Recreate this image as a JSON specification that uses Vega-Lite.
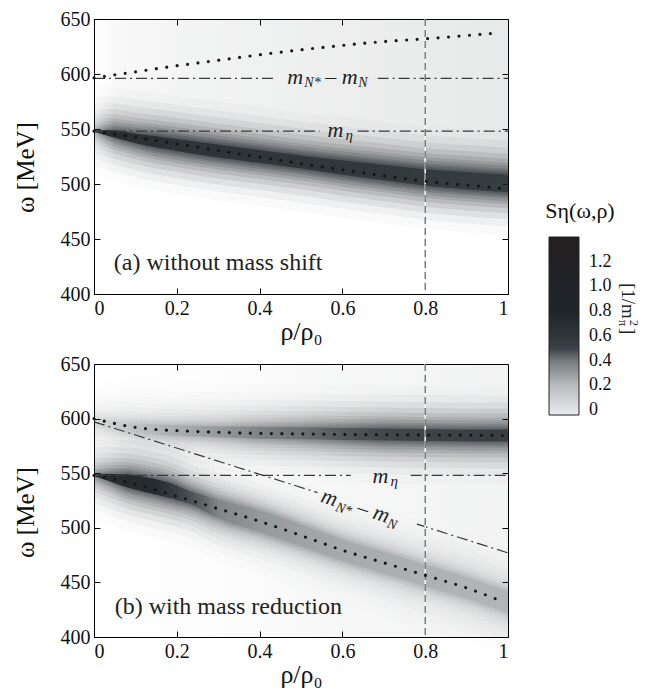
{
"$schema":"https://vega.github.io/schema/vega-lite/v6.json",
"padding":{"left":12,"top":8,"right":0,"bottom":0},
"background":"white",
"bounds":"flush",
"spacing":70,
"config":{
 "view":{"stroke":"black","strokeWidth":1},
 "font":"Liberation Serif",
 "axis":{"labelFont":"Liberation Serif","titleFont":"Liberation Serif","labelFontSize":20,"titleFontWeight":"normal","labelColor":"#111","titleColor":"#111","domainColor":"black","tickColor":"black","grid":false,"tickSize":-6,"labelPadding":10},
 "area":{"interpolate":"monotone","opacity":1},
 "text":{"font":"Liberation Serif","color":"#222"}
},
"datasets":{
 "bA":[{"x":0,"lo":547.5,"hi":548.5},{"x":0.03,"lo":544,"hi":549},{"x":0.1,"lo":537,"hi":546},{"x":0.2,"lo":530,"hi":541},{"x":0.3,"lo":524,"hi":536},{"x":0.4,"lo":519,"hi":531},{"x":0.5,"lo":514,"hi":526},{"x":0.6,"lo":508.5,"hi":521.5},{"x":0.7,"lo":503.5,"hi":517.5},{"x":0.8,"lo":498.5,"hi":513.5},{"x":0.9,"lo":495,"hi":511},{"x":1,"lo":492.5,"hi":508.5}],
 "bBl":[{"x":0,"lo":547.5,"hi":548.5},{"x":0.03,"lo":543.5,"hi":549.5},{"x":0.08,"lo":537,"hi":549},{"x":0.13,"lo":532,"hi":546},{"x":0.18,"lo":527.5,"hi":541.5},{"x":0.23,"lo":522,"hi":534},{"x":0.3,"lo":509,"hi":526},{"x":0.4,"lo":496,"hi":516},{"x":0.5,"lo":483,"hi":503},{"x":0.6,"lo":469.5,"hi":489.5},{"x":0.7,"lo":458,"hi":478},{"x":0.8,"lo":446.5,"hi":466.5},{"x":0.9,"lo":435,"hi":455},{"x":1,"lo":422,"hi":442}],
 "bBu":[{"x":0,"lo":595,"hi":599},{"x":0.05,"lo":591,"hi":597},{"x":0.1,"lo":587.5,"hi":595.5},{"x":0.2,"lo":584,"hi":594},{"x":0.3,"lo":583,"hi":593},{"x":0.4,"lo":581.5,"hi":592.5},{"x":0.5,"lo":581,"hi":592},{"x":0.6,"lo":580.5,"hi":591.5},{"x":0.7,"lo":580,"hi":591},{"x":0.8,"lo":579.5,"hi":590.5},{"x":0.9,"lo":579,"hi":590},{"x":1,"lo":579,"hi":590}],
 "dA":[{"k":"u","x":0,"y":596.5},{"k":"u","x":0.1,"y":602},{"k":"u","x":0.2,"y":607.5},{"k":"u","x":0.3,"y":612.5},{"k":"u","x":0.4,"y":617.5},{"k":"u","x":0.5,"y":622},{"k":"u","x":0.6,"y":626},{"k":"u","x":0.7,"y":629.5},{"k":"u","x":0.8,"y":632},{"k":"u","x":0.9,"y":635},{"k":"u","x":0.98,"y":637.5},
  {"k":"l","x":0,"y":548},{"k":"l","x":0.1,"y":542.5},{"k":"l","x":0.2,"y":536.5},{"k":"l","x":0.3,"y":530.5},{"k":"l","x":0.4,"y":524.5},{"k":"l","x":0.5,"y":518.5},{"k":"l","x":0.6,"y":513},{"k":"l","x":0.7,"y":507.5},{"k":"l","x":0.8,"y":502.5},{"k":"l","x":0.9,"y":499},{"k":"l","x":1,"y":495.5}],
 "dB":[{"k":"u","x":0,"y":600},{"k":"u","x":0.05,"y":595.5},{"k":"u","x":0.1,"y":592},{"k":"u","x":0.15,"y":590},{"k":"u","x":0.2,"y":589},{"k":"u","x":0.3,"y":587.5},{"k":"u","x":0.4,"y":586.5},{"k":"u","x":0.5,"y":586},{"k":"u","x":0.6,"y":585.5},{"k":"u","x":0.8,"y":585},{"k":"u","x":1,"y":584.5},
  {"k":"l","x":0,"y":548},{"k":"l","x":0.1,"y":540},{"k":"l","x":0.2,"y":529},{"k":"l","x":0.3,"y":517.5},{"k":"l","x":0.4,"y":506},{"k":"l","x":0.5,"y":493},{"k":"l","x":0.6,"y":479.5},{"k":"l","x":0.7,"y":468},{"k":"l","x":0.8,"y":456.5},{"k":"l","x":0.9,"y":445},{"k":"l","x":0.99,"y":432}],
 "lA":[{"x":0,"x2":0.44,"y":596,"y2":596},{"x":0.685,"x2":1,"y":596,"y2":596},{"x":0,"x2":0.545,"y":548,"y2":548},{"x":0.637,"x2":1,"y":548,"y2":548}],
 "lB":[{"x":0,"x2":0.62,"y":548,"y2":548},{"x":0.765,"x2":1,"y":548,"y2":548},{"x":0,"x2":0.54,"y":597,"y2":532.2},{"x":0.78,"x2":1,"y":503.4,"y2":477}],
 "one":[{}],
 "leg":[{"v":0},{"v":1.4}]
},
"vconcat":[
{
 "width":414,"height":275,
 "resolve":{"axis":{"x":"independent","y":"independent"}},
 "layer":[
  {"data":{"name":"bA"},
   "mark":{"type":"area","fill":{"gradient":"linear","stops":[{"offset":0,"color":"rgba(26,34,38,0)"},{"offset":0.06,"color":"rgba(26,34,38,0.03)"},{"offset":0.3,"color":"rgba(26,34,38,0.06)"},{"offset":0.6,"color":"rgba(26,34,38,0.08)"},{"offset":1,"color":"rgba(26,34,38,0.1)"}]}},
   "encoding":{
    "x":{"field":"x","type":"quantitative","scale":{"domain":[0,1],"nice":false,"zero":false},"axis":{"title":"ρ/ρ₀","titleFontSize":26,"titleY":24,"values":[0,0.2,0.4,0.6,0.8,1],"format":"~g"}},
    "y":{"field":"hi","type":"quantitative","scale":{"domain":[400,650],"nice":false,"zero":false},"axis":{"title":"ω [MeV]","titleFontSize":25,"titleX":-56,"titleY":148,"values":[400,450,500,550,600,650]}},
    "y2":{"datum":650}}},
  {"data":{"name":"bA"},"mark":{"type":"area","yOffset":43,"y2Offset":-43,"fill":{"gradient":"linear","stops":[{"offset":0,"color":"rgba(26,34,38,0.008)"},{"offset":0.05,"color":"rgba(26,34,38,0.02)"},{"offset":0.15,"color":"rgba(26,34,38,0.025)"},{"offset":1,"color":"rgba(26,34,38,0.025)"}]}},
   "encoding":{"x":{"field":"x","type":"quantitative","axis":null},"y":{"field":"lo","type":"quantitative","axis":null},"y2":{"field":"hi"}}},
  {"data":{"name":"bA"},"mark":{"type":"area","yOffset":34,"y2Offset":-34,"fill":{"gradient":"linear","stops":[{"offset":0,"color":"rgba(26,34,38,0.014)"},{"offset":0.05,"color":"rgba(26,34,38,0.037)"},{"offset":0.15,"color":"rgba(26,34,38,0.046)"},{"offset":1,"color":"rgba(26,34,38,0.046)"}]}},
   "encoding":{"x":{"field":"x","type":"quantitative","axis":null},"y":{"field":"lo","type":"quantitative","axis":null},"y2":{"field":"hi"}}},
  {"data":{"name":"bA"},"mark":{"type":"area","yOffset":27,"y2Offset":-27,"fill":{"gradient":"linear","stops":[{"offset":0,"color":"rgba(26,34,38,0.023)"},{"offset":0.05,"color":"rgba(26,34,38,0.06)"},{"offset":0.15,"color":"rgba(26,34,38,0.075)"},{"offset":1,"color":"rgba(26,34,38,0.075)"}]}},
   "encoding":{"x":{"field":"x","type":"quantitative","axis":null},"y":{"field":"lo","type":"quantitative","axis":null},"y2":{"field":"hi"}}},
  {"data":{"name":"bA"},"mark":{"type":"area","yOffset":21,"y2Offset":-21,"fill":{"gradient":"linear","stops":[{"offset":0,"color":"rgba(26,34,38,0.028)"},{"offset":0.05,"color":"rgba(26,34,38,0.074)"},{"offset":0.15,"color":"rgba(26,34,38,0.093)"},{"offset":1,"color":"rgba(26,34,38,0.093)"}]}},
   "encoding":{"x":{"field":"x","type":"quantitative","axis":null},"y":{"field":"lo","type":"quantitative","axis":null},"y2":{"field":"hi"}}},
  {"data":{"name":"bA"},"mark":{"type":"area","yOffset":16,"y2Offset":-16,"fill":{"gradient":"linear","stops":[{"offset":0,"color":"rgba(26,34,38,0.035)"},{"offset":0.05,"color":"rgba(26,34,38,0.092)"},{"offset":0.15,"color":"rgba(26,34,38,0.115)"},{"offset":1,"color":"rgba(26,34,38,0.115)"}]}},
   "encoding":{"x":{"field":"x","type":"quantitative","axis":null},"y":{"field":"lo","type":"quantitative","axis":null},"y2":{"field":"hi"}}},
  {"data":{"name":"bA"},"mark":{"type":"area","yOffset":12,"y2Offset":-12,"fill":{"gradient":"linear","stops":[{"offset":0,"color":"rgba(26,34,38,0.039)"},{"offset":0.05,"color":"rgba(26,34,38,0.104)"},{"offset":0.15,"color":"rgba(26,34,38,0.13)"},{"offset":1,"color":"rgba(26,34,38,0.13)"}]}},
   "encoding":{"x":{"field":"x","type":"quantitative","axis":null},"y":{"field":"lo","type":"quantitative","axis":null},"y2":{"field":"hi"}}},
  {"data":{"name":"bA"},"mark":{"type":"area","yOffset":9,"y2Offset":-9,"fill":{"gradient":"linear","stops":[{"offset":0,"color":"rgba(26,34,38,0.045)"},{"offset":0.05,"color":"rgba(26,34,38,0.12)"},{"offset":0.15,"color":"rgba(26,34,38,0.15)"},{"offset":1,"color":"rgba(26,34,38,0.15)"}]}},
   "encoding":{"x":{"field":"x","type":"quantitative","axis":null},"y":{"field":"lo","type":"quantitative","axis":null},"y2":{"field":"hi"}}},
  {"data":{"name":"bA"},"mark":{"type":"area","yOffset":6,"y2Offset":-6,"fill":{"gradient":"linear","stops":[{"offset":0,"color":"rgba(26,34,38,0.053)"},{"offset":0.05,"color":"rgba(26,34,38,0.141)"},{"offset":0.15,"color":"rgba(26,34,38,0.176)"},{"offset":1,"color":"rgba(26,34,38,0.176)"}]}},
   "encoding":{"x":{"field":"x","type":"quantitative","axis":null},"y":{"field":"lo","type":"quantitative","axis":null},"y2":{"field":"hi"}}},
  {"data":{"name":"bA"},"mark":{"type":"area","yOffset":4,"y2Offset":-4,"fill":{"gradient":"linear","stops":[{"offset":0,"color":"rgba(26,34,38,0.057)"},{"offset":0.05,"color":"rgba(26,34,38,0.152)"},{"offset":0.15,"color":"rgba(26,34,38,0.19)"},{"offset":1,"color":"rgba(26,34,38,0.19)"}]}},
   "encoding":{"x":{"field":"x","type":"quantitative","axis":null},"y":{"field":"lo","type":"quantitative","axis":null},"y2":{"field":"hi"}}},
  {"data":{"name":"bA"},"mark":{"type":"area","yOffset":2,"y2Offset":-2,"fill":{"gradient":"linear","stops":[{"offset":0,"color":"rgba(26,34,38,0.062)"},{"offset":0.05,"color":"rgba(26,34,38,0.165)"},{"offset":0.15,"color":"rgba(26,34,38,0.206)"},{"offset":1,"color":"rgba(26,34,38,0.206)"}]}},
   "encoding":{"x":{"field":"x","type":"quantitative","axis":null},"y":{"field":"lo","type":"quantitative","axis":null},"y2":{"field":"hi"}}},
  {"data":{"name":"bA"},"mark":{"type":"area","fill":{"gradient":"linear","stops":[{"offset":0,"color":"rgba(26,28,30,0.85)"},{"offset":0.2,"color":"rgba(26,34,38,0.7)"},{"offset":0.6,"color":"rgba(26,34,38,0.63)"},{"offset":1,"color":"rgba(26,34,38,0.55)"}]}},
   "encoding":{"x":{"field":"x","type":"quantitative","axis":null},"y":{"field":"lo","type":"quantitative","axis":null},"y2":{"field":"hi"}}},
  {"data":{"name":"lA"},
   "mark":{"type":"rule","strokeDash":[11,4,2,4],"strokeWidth":1.2,"color":"#3a3a3a"},
   "encoding":{"x":{"field":"x","type":"quantitative","axis":null},"x2":{"field":"x2"},"y":{"field":"y","type":"quantitative","axis":null},"y2":{"field":"y2"}}},
  {"data":{"name":"one"},
   "mark":{"type":"rule","strokeWidth":1.6,"color":"#f4f4f4"},
   "encoding":{"x":{"datum":0.8,"type":"quantitative","axis":null}}},
  {"data":{"name":"one"},
   "mark":{"type":"rule","strokeDash":[7,4],"strokeWidth":1.2,"color":"#606060"},
   "encoding":{"x":{"datum":0.8,"type":"quantitative","axis":null}}},
  {"data":{"name":"dA"},
   "mark":{"type":"line","interpolate":"monotone","strokeDash":[0,10.5],"strokeCap":"round","strokeWidth":3.2,"color":"#161616"},
   "encoding":{"x":{"field":"x","type":"quantitative","axis":null},"y":{"field":"y","type":"quantitative","axis":null},"detail":{"field":"k"}}},
  {"data":{"name":"one"},"mark":{"type":"text","text":"m","fontSize":22,"fontStyle":"italic","align":"left","baseline":"alphabetic","dy":6},
   "encoding":{"x":{"datum":0.467,"type":"quantitative","axis":null},"y":{"datum":596,"type":"quantitative","axis":null}}},
  {"data":{"name":"one"},"mark":{"type":"text","text":"N*","fontSize":14,"fontStyle":"italic","align":"left","baseline":"alphabetic","dx":17,"dy":9},
   "encoding":{"x":{"datum":0.467,"type":"quantitative","axis":null},"y":{"datum":596,"type":"quantitative","axis":null}}},
  {"data":{"name":"one"},"mark":{"type":"text","text":"– m","fontSize":22,"fontStyle":"italic","align":"left","baseline":"alphabetic","dx":38,"dy":6},
   "encoding":{"x":{"datum":0.467,"type":"quantitative","axis":null},"y":{"datum":596,"type":"quantitative","axis":null}}},
  {"data":{"name":"one"},"mark":{"type":"text","text":"N","fontSize":14,"fontStyle":"italic","align":"left","baseline":"alphabetic","dx":71,"dy":9},
   "encoding":{"x":{"datum":0.467,"type":"quantitative","axis":null},"y":{"datum":596,"type":"quantitative","axis":null}}},
  {"data":{"name":"one"},"mark":{"type":"text","text":"m","fontSize":22,"fontStyle":"italic","align":"left","baseline":"alphabetic","dy":6},
   "encoding":{"x":{"datum":0.564,"type":"quantitative","axis":null},"y":{"datum":548,"type":"quantitative","axis":null}}},
  {"data":{"name":"one"},"mark":{"type":"text","text":"η","fontSize":15,"fontStyle":"italic","align":"left","baseline":"alphabetic","dx":18,"dy":9},
   "encoding":{"x":{"datum":0.564,"type":"quantitative","axis":null},"y":{"datum":548,"type":"quantitative","axis":null}}},
  {"data":{"name":"one"},"mark":{"type":"text","text":"(a) without mass shift","fontSize":24,"align":"left","baseline":"alphabetic"},
   "encoding":{"x":{"datum":0.048,"type":"quantitative","axis":null},"y":{"datum":422,"type":"quantitative","axis":null}}},
  {"data":{"name":"one"},"mark":{"type":"text","text":"[1/m","fontSize":19,"angle":90,"align":"left","baseline":"alphabetic"},
   "encoding":{"x":{"datum":1.275,"type":"quantitative","axis":null},"y":{"datum":410,"type":"quantitative","axis":null}}},
  {"data":{"name":"one"},"mark":{"type":"text","text":"2","fontSize":12,"angle":90,"align":"left","baseline":"alphabetic","dx":37,"dy":-8},
   "encoding":{"x":{"datum":1.275,"type":"quantitative","axis":null},"y":{"datum":410,"type":"quantitative","axis":null}}},
  {"data":{"name":"one"},"mark":{"type":"text","text":"π","fontSize":12,"angle":90,"align":"left","baseline":"alphabetic","dx":37,"dy":3},
   "encoding":{"x":{"datum":1.275,"type":"quantitative","axis":null},"y":{"datum":410,"type":"quantitative","axis":null}}},
  {"data":{"name":"one"},"mark":{"type":"text","text":"]","fontSize":19,"angle":90,"align":"left","baseline":"alphabetic","dx":45},
   "encoding":{"x":{"datum":1.275,"type":"quantitative","axis":null},"y":{"datum":410,"type":"quantitative","axis":null}}},
  {"data":{"name":"leg"},
   "mark":{"type":"point","opacity":0},
   "encoding":{"x":{"datum":0.5,"type":"quantitative","axis":null},"y":{"datum":500,"type":"quantitative","axis":null},
    "color":{"field":"v","type":"quantitative","scale":{"domain":[-0.04,0.2,0.4,0.5,0.8,1.4],"range":["#e9ebef","#b9bcbf","#74797c","#3a4043","#1e2628","#231f20"]},
     "legend":{"title":"Sη(ω,ρ)","orient":"none","legendX":451,"legendY":182,"direction":"vertical","gradientLength":178,"gradientThickness":30,"values":[0,0.2,0.4,0.6,0.8,1,1.2],"labelOverlap":false,"labelExpr":"datum.value==0?'0':format(datum.value,'.1f')","labelFont":"Liberation Serif","labelFontSize":18,"labelColor":"#111","labelOffset":10,"titleFont":"Liberation Serif","titleFontSize":22,"titleFontWeight":"normal","titleColor":"#111","titleAnchor":"middle","titlePadding":14,"gradientStrokeColor":"#222","gradientStrokeWidth":1}}}},
  {"data":{"name":"one"},
   "mark":{"type":"point","opacity":0},
   "encoding":{"x":{"datum":0,"type":"quantitative","axis":{"orient":"top","labels":false,"title":null,"values":[0.2,0.4,0.6,0.8],"domain":false}},
    "y":{"datum":400,"type":"quantitative","axis":{"orient":"right","labels":false,"title":null,"values":[450,500,550,600],"domain":false}}}}
 ]
},
{
 "width":414,"height":273,
 "resolve":{"axis":{"x":"independent","y":"independent"}},
 "layer":[
  {"data":{"name":"bBu"},"mark":{"type":"area","fill":{"gradient":"linear","stops":[{"offset":0,"color":"rgba(26,34,38,0)"},{"offset":0.3,"color":"rgba(26,34,38,0.01)"},{"offset":0.6,"color":"rgba(26,34,38,0.035)"},{"offset":1,"color":"rgba(26,34,38,0.055)"}]}},
   "encoding":{
    "x":{"field":"x","type":"quantitative","scale":{"domain":[0,1],"nice":false,"zero":false},"axis":{"title":"ρ/ρ₀","titleFontSize":26,"titleY":24,"values":[0,0.2,0.4,0.6,0.8,1],"format":"~g"}},
    "y":{"datum":400,"type":"quantitative","scale":{"domain":[400,650],"nice":false,"zero":false},"axis":{"title":"ω [MeV]","titleFontSize":25,"titleX":-56,"titleY":148,"values":[400,450,500,550,600,650]}},
    "y2":{"datum":650}}},
  {"data":{"name":"bBu"},"mark":{"type":"area","yOffset":43,"y2Offset":-43,"fill":{"gradient":"linear","stops":[{"offset":0,"color":"rgba(26,34,38,0.004)"},{"offset":0.1,"color":"rgba(26,34,38,0.006)"},{"offset":0.3,"color":"rgba(26,34,38,0.008)"},{"offset":0.5,"color":"rgba(26,34,38,0.013)"},{"offset":0.7,"color":"rgba(26,34,38,0.02)"},{"offset":1,"color":"rgba(26,34,38,0.021)"}]}},
   "encoding":{"x":{"field":"x","type":"quantitative","axis":null},"y":{"field":"lo","type":"quantitative","axis":null},"y2":{"field":"hi"}}},
  {"data":{"name":"bBu"},"mark":{"type":"area","yOffset":34,"y2Offset":-34,"fill":{"gradient":"linear","stops":[{"offset":0,"color":"rgba(26,34,38,0.007)"},{"offset":0.1,"color":"rgba(26,34,38,0.01)"},{"offset":0.3,"color":"rgba(26,34,38,0.014)"},{"offset":0.5,"color":"rgba(26,34,38,0.023)"},{"offset":0.7,"color":"rgba(26,34,38,0.037)"},{"offset":1,"color":"rgba(26,34,38,0.039)"}]}},
   "encoding":{"x":{"field":"x","type":"quantitative","axis":null},"y":{"field":"lo","type":"quantitative","axis":null},"y2":{"field":"hi"}}},
  {"data":{"name":"bBu"},"mark":{"type":"area","yOffset":27,"y2Offset":-27,"fill":{"gradient":"linear","stops":[{"offset":0,"color":"rgba(26,34,38,0.011)"},{"offset":0.1,"color":"rgba(26,34,38,0.017)"},{"offset":0.3,"color":"rgba(26,34,38,0.023)"},{"offset":0.5,"color":"rgba(26,34,38,0.038)"},{"offset":0.7,"color":"rgba(26,34,38,0.06)"},{"offset":1,"color":"rgba(26,34,38,0.064)"}]}},
   "encoding":{"x":{"field":"x","type":"quantitative","axis":null},"y":{"field":"lo","type":"quantitative","axis":null},"y2":{"field":"hi"}}},
  {"data":{"name":"bBu"},"mark":{"type":"area","yOffset":21,"y2Offset":-21,"fill":{"gradient":"linear","stops":[{"offset":0,"color":"rgba(26,34,38,0.014)"},{"offset":0.1,"color":"rgba(26,34,38,0.02)"},{"offset":0.3,"color":"rgba(26,34,38,0.028)"},{"offset":0.5,"color":"rgba(26,34,38,0.047)"},{"offset":0.7,"color":"rgba(26,34,38,0.074)"},{"offset":1,"color":"rgba(26,34,38,0.079)"}]}},
   "encoding":{"x":{"field":"x","type":"quantitative","axis":null},"y":{"field":"lo","type":"quantitative","axis":null},"y2":{"field":"hi"}}},
  {"data":{"name":"bBu"},"mark":{"type":"area","yOffset":16,"y2Offset":-16,"fill":{"gradient":"linear","stops":[{"offset":0,"color":"rgba(26,34,38,0.017)"},{"offset":0.1,"color":"rgba(26,34,38,0.025)"},{"offset":0.3,"color":"rgba(26,34,38,0.035)"},{"offset":0.5,"color":"rgba(26,34,38,0.058)"},{"offset":0.7,"color":"rgba(26,34,38,0.092)"},{"offset":1,"color":"rgba(26,34,38,0.098)"}]}},
   "encoding":{"x":{"field":"x","type":"quantitative","axis":null},"y":{"field":"lo","type":"quantitative","axis":null},"y2":{"field":"hi"}}},
  {"data":{"name":"bBu"},"mark":{"type":"area","yOffset":12,"y2Offset":-12,"fill":{"gradient":"linear","stops":[{"offset":0,"color":"rgba(26,34,38,0.02)"},{"offset":0.1,"color":"rgba(26,34,38,0.029)"},{"offset":0.3,"color":"rgba(26,34,38,0.039)"},{"offset":0.5,"color":"rgba(26,34,38,0.065)"},{"offset":0.7,"color":"rgba(26,34,38,0.104)"},{"offset":1,"color":"rgba(26,34,38,0.111)"}]}},
   "encoding":{"x":{"field":"x","type":"quantitative","axis":null},"y":{"field":"lo","type":"quantitative","axis":null},"y2":{"field":"hi"}}},
  {"data":{"name":"bBu"},"mark":{"type":"area","yOffset":9,"y2Offset":-9,"fill":{"gradient":"linear","stops":[{"offset":0,"color":"rgba(26,34,38,0.023)"},{"offset":0.1,"color":"rgba(26,34,38,0.033)"},{"offset":0.3,"color":"rgba(26,34,38,0.045)"},{"offset":0.5,"color":"rgba(26,34,38,0.075)"},{"offset":0.7,"color":"rgba(26,34,38,0.12)"},{"offset":1,"color":"rgba(26,34,38,0.128)"}]}},
   "encoding":{"x":{"field":"x","type":"quantitative","axis":null},"y":{"field":"lo","type":"quantitative","axis":null},"y2":{"field":"hi"}}},
  {"data":{"name":"bBu"},"mark":{"type":"area","yOffset":6,"y2Offset":-6,"fill":{"gradient":"linear","stops":[{"offset":0,"color":"rgba(26,34,38,0.026)"},{"offset":0.1,"color":"rgba(26,34,38,0.039)"},{"offset":0.3,"color":"rgba(26,34,38,0.053)"},{"offset":0.5,"color":"rgba(26,34,38,0.088)"},{"offset":0.7,"color":"rgba(26,34,38,0.141)"},{"offset":1,"color":"rgba(26,34,38,0.15)"}]}},
   "encoding":{"x":{"field":"x","type":"quantitative","axis":null},"y":{"field":"lo","type":"quantitative","axis":null},"y2":{"field":"hi"}}},
  {"data":{"name":"bBu"},"mark":{"type":"area","yOffset":4,"y2Offset":-4,"fill":{"gradient":"linear","stops":[{"offset":0,"color":"rgba(26,34,38,0.029)"},{"offset":0.1,"color":"rgba(26,34,38,0.042)"},{"offset":0.3,"color":"rgba(26,34,38,0.057)"},{"offset":0.5,"color":"rgba(26,34,38,0.095)"},{"offset":0.7,"color":"rgba(26,34,38,0.152)"},{"offset":1,"color":"rgba(26,34,38,0.162)"}]}},
   "encoding":{"x":{"field":"x","type":"quantitative","axis":null},"y":{"field":"lo","type":"quantitative","axis":null},"y2":{"field":"hi"}}},
  {"data":{"name":"bBu"},"mark":{"type":"area","yOffset":2,"y2Offset":-2,"fill":{"gradient":"linear","stops":[{"offset":0,"color":"rgba(26,34,38,0.031)"},{"offset":0.1,"color":"rgba(26,34,38,0.045)"},{"offset":0.3,"color":"rgba(26,34,38,0.062)"},{"offset":0.5,"color":"rgba(26,34,38,0.103)"},{"offset":0.7,"color":"rgba(26,34,38,0.165)"},{"offset":1,"color":"rgba(26,34,38,0.175)"}]}},
   "encoding":{"x":{"field":"x","type":"quantitative","axis":null},"y":{"field":"lo","type":"quantitative","axis":null},"y2":{"field":"hi"}}},
  {"data":{"name":"bBu"},"mark":{"type":"area","fill":{"gradient":"linear","stops":[{"offset":0,"color":"rgba(26,34,38,0)"},{"offset":0.1,"color":"rgba(26,34,38,0.05)"},{"offset":0.3,"color":"rgba(26,34,38,0.2)"},{"offset":0.5,"color":"rgba(26,34,38,0.3)"},{"offset":0.7,"color":"rgba(26,34,38,0.5)"},{"offset":1,"color":"rgba(26,34,38,0.6)"}]}},
   "encoding":{"x":{"field":"x","type":"quantitative","axis":null},"y":{"field":"lo","type":"quantitative","axis":null},"y2":{"field":"hi"}}},
  {"data":{"name":"bBl"},"mark":{"type":"area","yOffset":43,"y2Offset":-43,"fill":{"gradient":"linear","stops":[{"offset":0,"color":"rgba(26,34,38,0.013)"},{"offset":0.08,"color":"rgba(26,34,38,0.021)"},{"offset":0.2,"color":"rgba(26,34,38,0.021)"},{"offset":0.3,"color":"rgba(26,34,38,0.013)"},{"offset":0.4,"color":"rgba(26,34,38,0.01)"},{"offset":0.6,"color":"rgba(26,34,38,0.007)"},{"offset":0.8,"color":"rgba(26,34,38,0.006)"},{"offset":1,"color":"rgba(26,34,38,0.006)"}]}},
   "encoding":{"x":{"field":"x","type":"quantitative","axis":null},"y":{"field":"lo","type":"quantitative","axis":null},"y2":{"field":"hi"}}},
  {"data":{"name":"bBl"},"mark":{"type":"area","yOffset":34,"y2Offset":-34,"fill":{"gradient":"linear","stops":[{"offset":0,"color":"rgba(26,34,38,0.023)"},{"offset":0.08,"color":"rgba(26,34,38,0.039)"},{"offset":0.2,"color":"rgba(26,34,38,0.039)"},{"offset":0.3,"color":"rgba(26,34,38,0.023)"},{"offset":0.4,"color":"rgba(26,34,38,0.017)"},{"offset":0.6,"color":"rgba(26,34,38,0.013)"},{"offset":0.8,"color":"rgba(26,34,38,0.011)"},{"offset":1,"color":"rgba(26,34,38,0.01)"}]}},
   "encoding":{"x":{"field":"x","type":"quantitative","axis":null},"y":{"field":"lo","type":"quantitative","axis":null},"y2":{"field":"hi"}}},
  {"data":{"name":"bBl"},"mark":{"type":"area","yOffset":27,"y2Offset":-27,"fill":{"gradient":"linear","stops":[{"offset":0,"color":"rgba(26,34,38,0.038)"},{"offset":0.08,"color":"rgba(26,34,38,0.064)"},{"offset":0.2,"color":"rgba(26,34,38,0.064)"},{"offset":0.3,"color":"rgba(26,34,38,0.038)"},{"offset":0.4,"color":"rgba(26,34,38,0.029)"},{"offset":0.6,"color":"rgba(26,34,38,0.021)"},{"offset":0.8,"color":"rgba(26,34,38,0.018)"},{"offset":1,"color":"rgba(26,34,38,0.017)"}]}},
   "encoding":{"x":{"field":"x","type":"quantitative","axis":null},"y":{"field":"lo","type":"quantitative","axis":null},"y2":{"field":"hi"}}},
  {"data":{"name":"bBl"},"mark":{"type":"area","yOffset":21,"y2Offset":-21,"fill":{"gradient":"linear","stops":[{"offset":0,"color":"rgba(26,34,38,0.047)"},{"offset":0.08,"color":"rgba(26,34,38,0.079)"},{"offset":0.2,"color":"rgba(26,34,38,0.079)"},{"offset":0.3,"color":"rgba(26,34,38,0.047)"},{"offset":0.4,"color":"rgba(26,34,38,0.035)"},{"offset":0.6,"color":"rgba(26,34,38,0.026)"},{"offset":0.8,"color":"rgba(26,34,38,0.022)"},{"offset":1,"color":"rgba(26,34,38,0.02)"}]}},
   "encoding":{"x":{"field":"x","type":"quantitative","axis":null},"y":{"field":"lo","type":"quantitative","axis":null},"y2":{"field":"hi"}}},
  {"data":{"name":"bBl"},"mark":{"type":"area","yOffset":16,"y2Offset":-16,"fill":{"gradient":"linear","stops":[{"offset":0,"color":"rgba(26,34,38,0.058)"},{"offset":0.08,"color":"rgba(26,34,38,0.098)"},{"offset":0.2,"color":"rgba(26,34,38,0.098)"},{"offset":0.3,"color":"rgba(26,34,38,0.058)"},{"offset":0.4,"color":"rgba(26,34,38,0.044)"},{"offset":0.6,"color":"rgba(26,34,38,0.032)"},{"offset":0.8,"color":"rgba(26,34,38,0.028)"},{"offset":1,"color":"rgba(26,34,38,0.025)"}]}},
   "encoding":{"x":{"field":"x","type":"quantitative","axis":null},"y":{"field":"lo","type":"quantitative","axis":null},"y2":{"field":"hi"}}},
  {"data":{"name":"bBl"},"mark":{"type":"area","yOffset":12,"y2Offset":-12,"fill":{"gradient":"linear","stops":[{"offset":0,"color":"rgba(26,34,38,0.065)"},{"offset":0.08,"color":"rgba(26,34,38,0.11)"},{"offset":0.2,"color":"rgba(26,34,38,0.11)"},{"offset":0.3,"color":"rgba(26,34,38,0.065)"},{"offset":0.4,"color":"rgba(26,34,38,0.049)"},{"offset":0.6,"color":"rgba(26,34,38,0.036)"},{"offset":0.8,"color":"rgba(26,34,38,0.031)"},{"offset":1,"color":"rgba(26,34,38,0.029)"}]}},
   "encoding":{"x":{"field":"x","type":"quantitative","axis":null},"y":{"field":"lo","type":"quantitative","axis":null},"y2":{"field":"hi"}}},
  {"data":{"name":"bBl"},"mark":{"type":"area","yOffset":9,"y2Offset":-9,"fill":{"gradient":"linear","stops":[{"offset":0,"color":"rgba(26,34,38,0.075)"},{"offset":0.08,"color":"rgba(26,34,38,0.128)"},{"offset":0.2,"color":"rgba(26,34,38,0.128)"},{"offset":0.3,"color":"rgba(26,34,38,0.075)"},{"offset":0.4,"color":"rgba(26,34,38,0.057)"},{"offset":0.6,"color":"rgba(26,34,38,0.042)"},{"offset":0.8,"color":"rgba(26,34,38,0.036)"},{"offset":1,"color":"rgba(26,34,38,0.033)"}]}},
   "encoding":{"x":{"field":"x","type":"quantitative","axis":null},"y":{"field":"lo","type":"quantitative","axis":null},"y2":{"field":"hi"}}},
  {"data":{"name":"bBl"},"mark":{"type":"area","yOffset":6,"y2Offset":-6,"fill":{"gradient":"linear","stops":[{"offset":0,"color":"rgba(26,34,38,0.088)"},{"offset":0.08,"color":"rgba(26,34,38,0.15)"},{"offset":0.2,"color":"rgba(26,34,38,0.15)"},{"offset":0.3,"color":"rgba(26,34,38,0.088)"},{"offset":0.4,"color":"rgba(26,34,38,0.067)"},{"offset":0.6,"color":"rgba(26,34,38,0.049)"},{"offset":0.8,"color":"rgba(26,34,38,0.042)"},{"offset":1,"color":"rgba(26,34,38,0.039)"}]}},
   "encoding":{"x":{"field":"x","type":"quantitative","axis":null},"y":{"field":"lo","type":"quantitative","axis":null},"y2":{"field":"hi"}}},
  {"data":{"name":"bBl"},"mark":{"type":"area","yOffset":4,"y2Offset":-4,"fill":{"gradient":"linear","stops":[{"offset":0,"color":"rgba(26,34,38,0.095)"},{"offset":0.08,"color":"rgba(26,34,38,0.162)"},{"offset":0.2,"color":"rgba(26,34,38,0.162)"},{"offset":0.3,"color":"rgba(26,34,38,0.095)"},{"offset":0.4,"color":"rgba(26,34,38,0.072)"},{"offset":0.6,"color":"rgba(26,34,38,0.053)"},{"offset":0.8,"color":"rgba(26,34,38,0.046)"},{"offset":1,"color":"rgba(26,34,38,0.042)"}]}},
   "encoding":{"x":{"field":"x","type":"quantitative","axis":null},"y":{"field":"lo","type":"quantitative","axis":null},"y2":{"field":"hi"}}},
  {"data":{"name":"bBl"},"mark":{"type":"area","yOffset":2,"y2Offset":-2,"fill":{"gradient":"linear","stops":[{"offset":0,"color":"rgba(26,34,38,0.103)"},{"offset":0.08,"color":"rgba(26,34,38,0.175)"},{"offset":0.2,"color":"rgba(26,34,38,0.175)"},{"offset":0.3,"color":"rgba(26,34,38,0.103)"},{"offset":0.4,"color":"rgba(26,34,38,0.078)"},{"offset":0.6,"color":"rgba(26,34,38,0.058)"},{"offset":0.8,"color":"rgba(26,34,38,0.049)"},{"offset":1,"color":"rgba(26,34,38,0.045)"}]}},
   "encoding":{"x":{"field":"x","type":"quantitative","axis":null},"y":{"field":"lo","type":"quantitative","axis":null},"y2":{"field":"hi"}}},
  {"data":{"name":"bBl"},"mark":{"type":"area","fill":{"gradient":"linear","stops":[{"offset":0,"color":"rgba(26,28,30,0.85)"},{"offset":0.15,"color":"rgba(26,34,38,0.85)"},{"offset":0.22,"color":"rgba(26,34,38,0.5)"},{"offset":0.3,"color":"rgba(26,34,38,0.15)"},{"offset":0.5,"color":"rgba(26,34,38,0.1)"},{"offset":1,"color":"rgba(26,34,38,0.08)"}]}},
   "encoding":{"x":{"field":"x","type":"quantitative","axis":null},"y":{"field":"lo","type":"quantitative","axis":null},"y2":{"field":"hi"}}},
  {"data":{"name":"lB"},
   "mark":{"type":"rule","strokeDash":[11,4,2,4],"strokeWidth":1.2,"color":"#3a3a3a"},
   "encoding":{"x":{"field":"x","type":"quantitative","axis":null},"x2":{"field":"x2"},"y":{"field":"y","type":"quantitative","axis":null},"y2":{"field":"y2"}}},
  {"data":{"name":"one"},
   "mark":{"type":"rule","strokeWidth":1.6,"color":"#f4f4f4"},
   "encoding":{"x":{"datum":0.8,"type":"quantitative","axis":null}}},
  {"data":{"name":"one"},
   "mark":{"type":"rule","strokeDash":[7,4],"strokeWidth":1.2,"color":"#606060"},
   "encoding":{"x":{"datum":0.8,"type":"quantitative","axis":null}}},
  {"data":{"name":"dB"},
   "mark":{"type":"line","interpolate":"monotone","strokeDash":[0,10.5],"strokeCap":"round","strokeWidth":3.2,"color":"#161616"},
   "encoding":{"x":{"field":"x","type":"quantitative","axis":null},"y":{"field":"y","type":"quantitative","axis":null},"detail":{"field":"k"}}},
  {"data":{"name":"one"},"mark":{"type":"text","text":"m","fontSize":22,"fontStyle":"italic","align":"left","baseline":"alphabetic","dy":8},
   "encoding":{"x":{"datum":0.673,"type":"quantitative","axis":null},"y":{"datum":548,"type":"quantitative","axis":null}}},
  {"data":{"name":"one"},"mark":{"type":"text","text":"η","fontSize":15,"fontStyle":"italic","align":"left","baseline":"alphabetic","dx":18,"dy":11},
   "encoding":{"x":{"datum":0.673,"type":"quantitative","axis":null},"y":{"datum":548,"type":"quantitative","axis":null}}},
  {"data":{"name":"one"},"mark":{"type":"text","text":"m","fontSize":22,"fontStyle":"italic","align":"left","baseline":"alphabetic","angle":17.6,"dy":8},
   "encoding":{"x":{"datum":0.551,"type":"quantitative","axis":null},"y":{"datum":530.9,"type":"quantitative","axis":null}}},
  {"data":{"name":"one"},"mark":{"type":"text","text":"N*","fontSize":14,"fontStyle":"italic","align":"left","baseline":"alphabetic","angle":17.6,"dx":17,"dy":12},
   "encoding":{"x":{"datum":0.551,"type":"quantitative","axis":null},"y":{"datum":530.9,"type":"quantitative","axis":null}}},
  {"data":{"name":"one"},"mark":{"type":"text","text":"– m","fontSize":22,"fontStyle":"italic","align":"left","baseline":"alphabetic","angle":17.6,"dx":38,"dy":8},
   "encoding":{"x":{"datum":0.551,"type":"quantitative","axis":null},"y":{"datum":530.9,"type":"quantitative","axis":null}}},
  {"data":{"name":"one"},"mark":{"type":"text","text":"N","fontSize":14,"fontStyle":"italic","align":"left","baseline":"alphabetic","angle":17.6,"dx":71,"dy":12},
   "encoding":{"x":{"datum":0.551,"type":"quantitative","axis":null},"y":{"datum":530.9,"type":"quantitative","axis":null}}},
  {"data":{"name":"one"},"mark":{"type":"text","text":"(b) with mass reduction","fontSize":24,"align":"left","baseline":"alphabetic"},
   "encoding":{"x":{"datum":0.05,"type":"quantitative","axis":null},"y":{"datum":421.5,"type":"quantitative","axis":null}}},
  {"data":{"name":"one"},
   "mark":{"type":"point","opacity":0},
   "encoding":{"x":{"datum":0,"type":"quantitative","axis":{"orient":"top","labels":false,"title":null,"values":[0.2,0.4,0.6,0.8],"domain":false}},
    "y":{"datum":400,"type":"quantitative","axis":{"orient":"right","labels":false,"title":null,"values":[450,500,550,600],"domain":false}}}}
 ]
}
]
}
